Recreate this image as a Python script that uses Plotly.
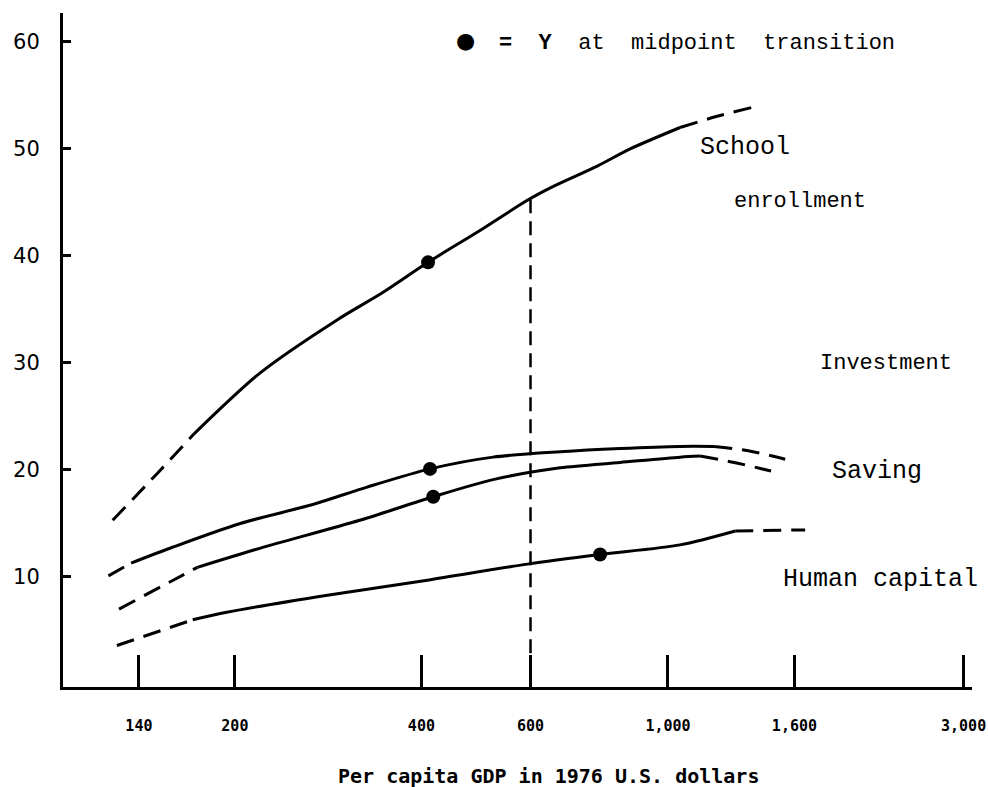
import numpy as np
import plotly.graph_objects as go

# ---------------- data ----------------
tick_gdp = [140, 200, 400, 600, 1000, 1600, 3000]
tick_labels = ["140", "200", "400", "600", "1,000", "1,600", "3,000"]
y_ticks = [10, 20, 30, 40, 50, 60]

school_gdp = [127, 150, 172, 220, 292, 347, 410, 498, 593, 653, 769, 869, 1046, 1192, 1372]
school_val = [15.3, 19.7, 23.4, 29.1, 34.0, 36.6, 39.4, 42.4, 45.2, 46.5, 48.4, 50.0, 52.0, 53.0, 53.9]
school_solid = (2, 12)

investment_gdp = [125, 136, 159, 204, 268, 327, 413, 522, 670, 837, 1046, 1187, 1347, 1546]
investment_val = [10.1, 11.3, 12.8, 15.0, 16.8, 18.4, 20.1, 21.2, 21.7, 22.0, 22.2, 22.2, 21.8, 21.0]
investment_solid = (1, 11)

saving_gdp = [130, 159, 174, 220, 318, 418, 522, 670, 837, 1046, 1127, 1279, 1467]
saving_val = [7.0, 9.7, 10.9, 12.7, 15.3, 17.5, 19.1, 20.2, 20.7, 21.2, 21.3, 20.7, 19.9]
saving_solid = (2, 10)

human_gdp = [129, 171, 194, 282, 409, 593, 777, 1046, 1284, 1665]
human_val = [3.6, 6.0, 6.7, 8.3, 9.7, 11.2, 12.1, 13.0, 14.3, 14.4]
human_solid = (1, 8)

midpoint_gdp = [410, 413, 418, 777]
midpoint_val = [39.4, 20.1, 17.5, 12.1]

transition_gdp = 600
transition_top = 45.3

# ---------------- figure ----------------
fig = go.Figure()

DASH = "18px,10px"
LW = 3


def add_curve(xs, ys, solid):
    s0, s1 = solid
    segs = [
        (xs[: s0 + 1], ys[: s0 + 1], DASH),
        (xs[s0: s1 + 1], ys[s0: s1 + 1], "solid"),
        (xs[s1:], ys[s1:], DASH),
    ]
    for sx, sy, d in segs:
        if len(sx) < 2:
            continue
        fig.add_trace(go.Scatter(
            x=sx, y=sy, mode="lines",
            line=dict(color="black", width=LW, dash=d, shape="spline", smoothing=0.8),
            showlegend=False, hoverinfo="skip"))


add_curve(school_gdp, school_val, school_solid)
add_curve(investment_gdp, investment_val, investment_solid)
add_curve(saving_gdp, saving_val, saving_solid)
add_curve(human_gdp, human_val, human_solid)

# vertical dashed line at transition
fig.add_trace(go.Scatter(
    x=[transition_gdp, transition_gdp], y=[transition_top, 0],
    mode="lines", line=dict(color="black", width=2.5, dash="14px,8px"),
    showlegend=False, hoverinfo="skip"))

# midpoint dots
fig.add_trace(go.Scatter(
    x=midpoint_gdp, y=midpoint_val, mode="markers",
    marker=dict(color="black", size=14, symbol="circle"),
    showlegend=False, hoverinfo="skip"))

MONO = "Liberation Mono"


def px2paper(px, py):
    return (px - 63) / 909, (687 - py) / 674


def label(text, px, py, size, xanchor="left", family=MONO):
    x, y = px2paper(px, py)
    fig.add_annotation(x=x, y=y, xref="paper", yref="paper", text=text,
                       showarrow=False, xanchor=xanchor, yanchor="middle",
                       font=dict(family=family, size=size, color="black"))


NB = "\u00a0"
label("\u25cf", 465, 41, 22, xanchor="center", family="DejaVu Sans")
label("<b>=</b>" + NB * 2 + "<b>Y</b>" + NB * 2 + "at" + NB * 2 + "midpoint" + NB * 2 + "transition",
      497, 44, 22)
label("School", 698, 148, 25)
label("enrollment", 732, 202, 22)
label("Investment", 818, 364, 22)
label("Saving", 830, 471, 25)
label("Human capital", 781, 579, 25)
label("<b>Per" + NB + "capita" + NB + "GDP" + NB + "in" + NB + "1976" + NB + "U.S." + NB + "dollars</b>",
      548, 776, 20, xanchor="center", family="DejaVu Sans Mono")

fig.update_layout(
    width=988, height=787,
    margin=dict(l=63, r=16, t=13, b=100, autoexpand=False),
    paper_bgcolor="white", plot_bgcolor="white",
    showlegend=False,
    xaxis=dict(
        type="log", range=[2.0236, 3.4907],
        tickvals=tick_gdp, ticktext=tick_labels,
        ticks="inside", ticklen=32, tickwidth=3, tickcolor="black",
        showline=True, linewidth=3, linecolor="black",
        showgrid=False, zeroline=False, automargin=False,
        ticklabelstandoff=23, ticklabeloverflow="allow",
        tickfont=dict(family="DejaVu Sans Mono", size=15, color="black", weight="bold"),
    ),
    yaxis=dict(
        range=[-0.28, 62.7],
        tickvals=y_ticks,
        ticks="inside", ticklen=8, tickwidth=3, tickcolor="black",
        showline=True, linewidth=3, linecolor="black",
        showgrid=False, zeroline=False, automargin=False,
        ticklabelstandoff=16,
        tickfont=dict(family="DejaVu Sans", size=21, color="black"),
    ),
)

fig.write_html(
    "out.html",
    config={"displayModeBar": False},
    post_script="document.body.style.margin='0px';document.body.style.overflow='hidden';"
                "document.documentElement.style.overflow='hidden';",
)
